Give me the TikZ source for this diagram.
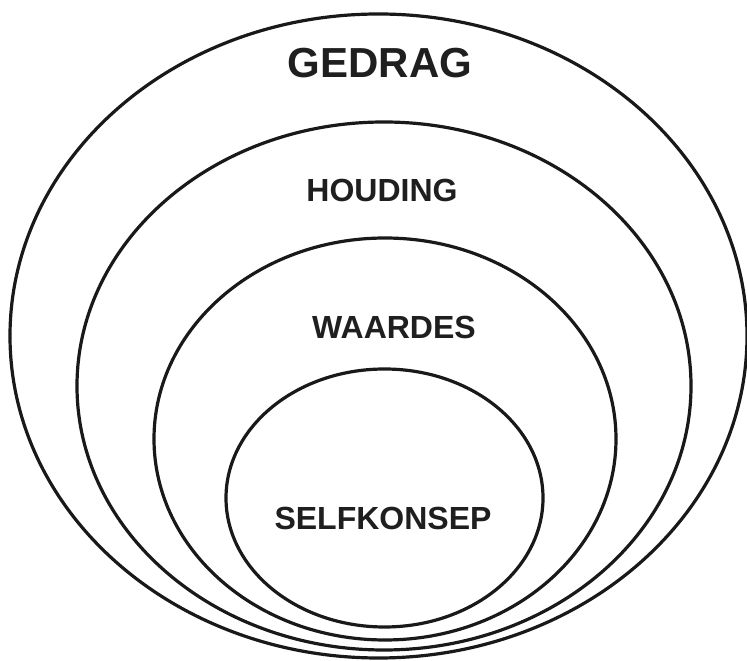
\documentclass[tikz,border=0pt]{standalone}
\usepackage{fontspec}
\setmainfont{Liberation Sans}
\usetikzlibrary{shapes.geometric}
\tikzset{
  ring/.style={ellipse, draw=black!90, line width=3.2pt, inner sep=0pt, outer sep=0pt},
  label/.style={inner sep=0pt, font=\bfseries\fontsize{32}{32}\selectfont, text=black!88},
  biglabel/.style={label, font=\bfseries\fontsize{42}{42}\selectfont}
}
\begin{document}
\begin{tikzpicture}[x=1pt,y=1pt]
\fill[white] (0,0) rectangle (747,661);
\useasboundingbox (0,0) rectangle (747,661);
\node[ring, minimum width=737pt, minimum height=644pt] (gedrag) at (378.5,325) {};
\node[ring, minimum width=614pt, minimum height=528pt] (houding) at (384,275) {};
\node[ring, minimum width=462pt, minimum height=402pt] (waardes) at (385,222) {};
\node[ring, minimum width=317pt, minimum height=258pt] (self) at (384.5,163) {};
\node[biglabel] (tg) at (380,598) {GEDRAG};
\node[label] (th) at (382,471) {HOUDING};
\node[label] (tw) at (394,334) {WAARDES};
\node[label] (ts) at (383,143) {SELFKONSEP};
\end{tikzpicture}
\end{document}
